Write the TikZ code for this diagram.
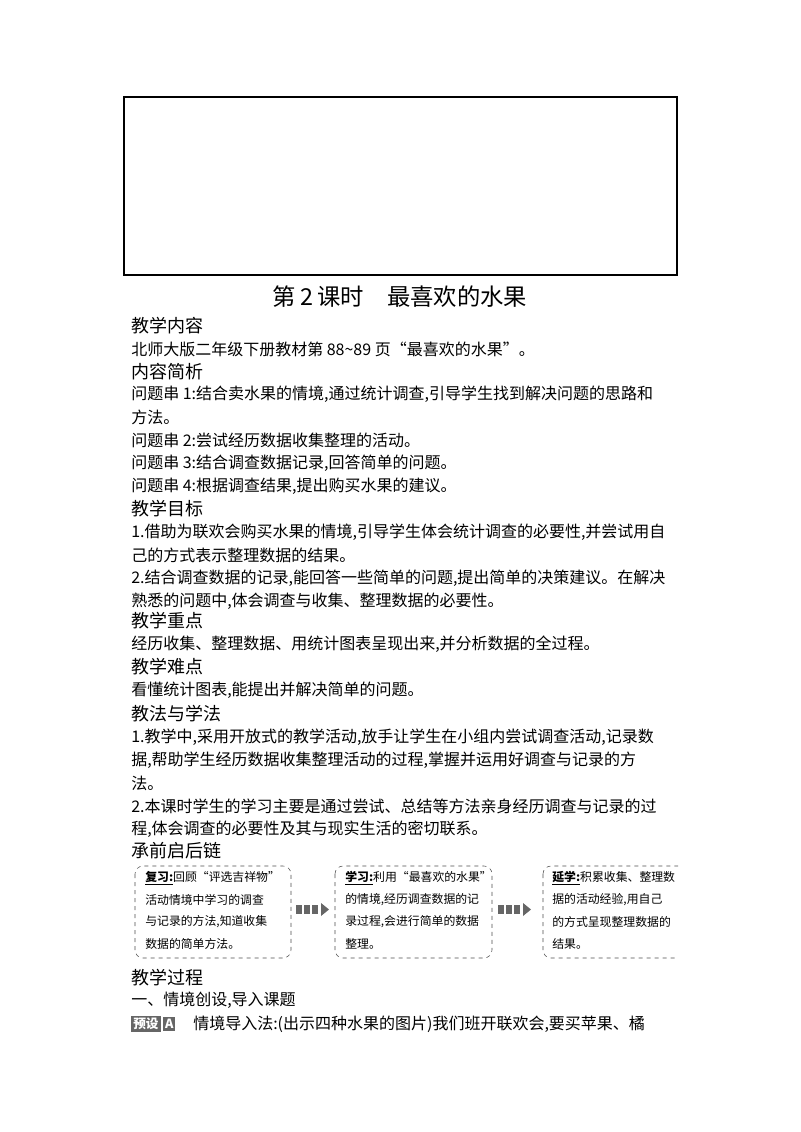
\documentclass[tikz,border=0pt]{standalone}
\usepackage{fontspec}
\setmainfont{Noto Sans CJK SC}
\begin{document}
\begin{tikzpicture}[x=0.75pt,y=-0.75pt,
  body/.style={anchor=west,inner sep=0,font=\fontsize{12}{14}\selectfont},
  head/.style={anchor=west,inner sep=0,font=\fontsize{13.5}{15}\selectfont},
  small/.style={anchor=west,inner sep=0,font=\fontsize{8.9}{9}\selectfont},
  chainbox/.style={draw=black!70,dashed,rounded corners=6pt,thin},
  tag/.style={fill=black!60,text=white,inner sep=1.5pt,font=\fontsize{9.5}{10}\selectfont\bfseries}]
\useasboundingbox (0,0) rectangle (800,1132);
\draw[line width=0.8pt] (124,97) rectangle (677,275);
\node[inner sep=0,font=\fontsize{17.5}{19}\selectfont] (title) at (400,297) {第\,2\,课时\quad 最喜欢的水果};
\node[head] (h1) at (131,326) {教学内容};
\node[body] (l1) at (131,349) {北师大版二年级下册教材第 88\textasciitilde89 页“最喜欢的水果”。};
\node[head] (h2) at (131,372) {内容简析};
\node[body] at (131,394) {问题串 1:结合卖水果的情境,通过统计调查,引导学生找到解决问题的思路和};
\node[body] at (131,417) {方法。};
\node[body] at (131,440) {问题串 2:尝试经历数据收集整理的活动。};
\node[body] at (131,463) {问题串 3:结合调查数据记录,回答简单的问题。};
\node[body] at (131,486) {问题串 4:根据调查结果,提出购买水果的建议。};
\node[head] at (131,509) {教学目标};
\node[body] at (131,532) {1.借助为联欢会购买水果的情境,引导学生体会统计调查的必要性,并尝试用自};
\node[body] at (131,555) {己的方式表示整理数据的结果。};
\node[body] at (131,578) {2.结合调查数据的记录,能回答一些简单的问题,提出简单的决策建议。在解决};
\node[body] at (131,601) {熟悉的问题中,体会调查与收集、整理数据的必要性。};
\node[head] at (131,621) {教学重点};
\node[body] at (131,644) {经历收集、整理数据、用统计图表呈现出来,并分析数据的全过程。};
\node[head] at (131,667) {教学难点};
\node[body] at (131,690) {看懂统计图表,能提出并解决简单的问题。};
\node[head] at (131,714) {教法与学法};
\node[body] at (131,737) {1.教学中,采用开放式的教学活动,放手让学生在小组内尝试调查活动,记录数};
\node[body] at (131,760) {据,帮助学生经历数据收集整理活动的过程,掌握并运用好调查与记录的方};
\node[body] at (131,783) {法。};
\node[body] at (131,806) {2.本课时学生的学习主要是通过尝试、总结等方法亲身经历调查与记录的过};
\node[body] at (131,829) {程,体会调查的必要性及其与现实生活的密切联系。};
\node[head] at (131,851) {承前启后链};
% chain boxes
\draw[chainbox] (135,866) rectangle (291,958);
\draw[chainbox] (335,866) rectangle (492,958);
\begin{scope}
\clip (540,860) rectangle (678,964);
\draw[chainbox] (543,866) rectangle (700,958);
\end{scope}
\foreach \x in {296,498}{
  \foreach \d in {0,8,16}{\fill[black!60] (\x+\d,905) rectangle (\x+\d+6,914);}
  \fill[black!60] (\x+25,903) -- (\x+33,909.5) -- (\x+25,916) -- cycle;}
\begin{scope}
\clip (130,860) rectangle (678,964);
\node[small] at (145,878) {\textbf{\underline{复习:}}回顾“评选吉祥物”};
\node[small] at (145,900) {活动情境中学习的调查};
\node[small] at (145,922) {与记录的方法,知道收集};
\node[small] at (145,944) {数据的简单方法。};
\node[small] at (345,878) {\textbf{\underline{学习:}}利用“最喜欢的水果”};
\node[small] at (345,900) {的情境,经历调查数据的记};
\node[small] at (345,922) {录过程,会进行简单的数据};
\node[small] at (345,944) {整理。};
\node[small] at (552,878) {\textbf{\underline{延学:}}积累收集、整理数};
\node[small] at (552,900) {据的活动经验,用自己};
\node[small] at (552,922) {的方式呈现整理数据的};
\node[small] at (552,944) {结果。};
\end{scope}
\node[head] at (131,978) {教学过程};
\node[body] at (131,1000) {一、情境创设,导入课题};
\node[tag,anchor=west] (t1) at (131,1024) {预设};
\node[tag,anchor=west] (t2) at ([xshift=1.5pt]t1.east) {A};
\node[body] at (193,1024) {情境导入法:(出示四种水果的图片)我们班开联欢会,要买苹果、橘};
\end{tikzpicture}
\end{document}
